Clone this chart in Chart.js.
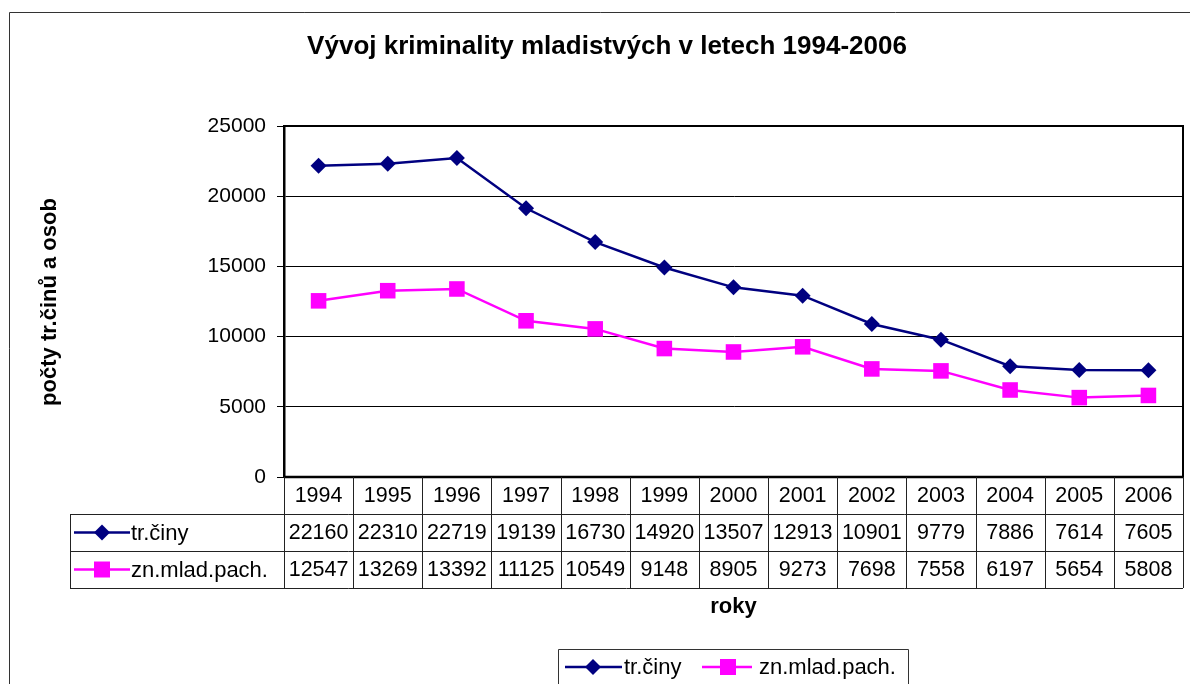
<!DOCTYPE html>
<html>
<head>
<meta charset="utf-8">
<script src="https://cdn.jsdelivr.net/npm/chart.js@4.4.0/dist/chart.umd.min.js"></script>
<style>
html,body{margin:0;padding:0;background:#fff;}
canvas{display:block;}
</style>
</head>
<body>
<canvas id="c" width="1190" height="684"></canvas>
<script>
// ---- data ----
const years = ['1994','1995','1996','1997','1998','1999','2000','2001','2002','2003','2004','2005','2006'];
const trCiny = [22160,22310,22719,19139,16730,14920,13507,12913,10901,9779,7886,7614,7605];
const mladPach = [12547,13269,13392,11125,10549,9148,8905,9273,7698,7558,6197,5654,5808];
const yTickValues = [0,5000,10000,15000,20000,25000];
const seriesNames = ['tr.činy','zn.mlad.pach.'];
const chartTitle = 'Vývoj kriminality mladistvých v letech 1994-2006';
const yAxisTitle = 'počty tr.činů a osob';
const xAxisTitle = 'roky';

const FONT = '"Liberation Sans", Arial, Helvetica, sans-serif';
const NAVY = '#000080';
const MAGENTA = '#FF00FF';

function px(v){ return Math.round(v) + 0.5; }

function drawMarker(ctx, style, x, y, r, color){
  ctx.save();
  ctx.fillStyle = color;
  ctx.beginPath();
  if (style === 'diamond'){
    ctx.moveTo(x, y - r); ctx.lineTo(x + r, y); ctx.lineTo(x, y + r); ctx.lineTo(x - r, y); ctx.closePath();
  } else {
    ctx.rect(x - r, y - r, 2*r, 2*r);
  }
  ctx.fill();
  ctx.restore();
}

function legendSample(ctx, x1, x2, cx, y, color, style){
  ctx.save();
  ctx.strokeStyle = color; ctx.lineWidth = 2.5;
  ctx.beginPath(); ctx.moveTo(x1, y); ctx.lineTo(x2, y); ctx.stroke();
  ctx.restore();
  if (style === 'diamond') drawMarker(ctx, 'diamond', cx, y, 8, color);
  else drawMarker(ctx, 'square', cx, y, 8, color);
}

const excelPlugin = {
  id: 'excelDecor',
  afterDraw(chart){
    const ctx = chart.ctx;
    const a = chart.chartArea;
    const xs = chart.scales.x;
    ctx.save();

    // outer chart frame
    ctx.strokeStyle = '#333'; ctx.lineWidth = 1;
    ctx.beginPath(); ctx.moveTo(9.5, 700); ctx.lineTo(9.5, 12.5); ctx.lineTo(1200, 12.5); ctx.stroke();

    // plot area border (top / right / bottom)
    ctx.strokeStyle = '#000'; ctx.lineWidth = 2;
    ctx.beginPath();
    ctx.moveTo(a.left, a.top); ctx.lineTo(a.right, a.top); ctx.lineTo(a.right, a.bottom);
    ctx.stroke();
    ctx.lineWidth = 2.5;
    ctx.beginPath(); ctx.moveTo(a.left, a.bottom); ctx.lineTo(a.right, a.bottom); ctx.stroke();

    // title
    ctx.fillStyle = '#000';
    ctx.textAlign = 'center'; ctx.textBaseline = 'middle';
    ctx.font = 'bold 26px ' + FONT;
    ctx.fillText(chartTitle, 607, 47);

    // y axis title
    ctx.save();
    ctx.translate(50, 302);
    ctx.rotate(-Math.PI/2);
    ctx.font = 'bold 22px ' + FONT;
    ctx.fillText(yAxisTitle, 0, 0);
    ctx.restore();

    // data table
    const rowH = 37;
    const r0 = a.bottom, r1 = r0 + rowH, r2 = r1 + rowH, r3 = r2 + rowH;
    const tableLeft = 70;
    ctx.strokeStyle = '#222'; ctx.lineWidth = 1;
    ctx.beginPath();
    [r1, r2, r3].forEach(function(y){ ctx.moveTo(tableLeft, px(y)); ctx.lineTo(a.right, px(y)); });
    for (let i = 0; i <= years.length; i++){
      const x = xs.getPixelForValue(i - 0.5);
      ctx.moveTo(px(x), r0); ctx.lineTo(px(x), r3);
    }
    ctx.moveTo(px(tableLeft), px(r1)); ctx.lineTo(px(tableLeft), r3);
    ctx.stroke();

    ctx.font = '21.5px ' + FONT;
    ctx.textAlign = 'center'; ctx.textBaseline = 'middle';
    const rows = [years, trCiny, mladPach];
    const centers = [(r0 + r1)/2 + 1, (r1 + r2)/2 + 1, (r2 + r3)/2 + 1];
    rows.forEach(function(row, ri){
      row.forEach(function(v, i){
        ctx.fillText(String(v), xs.getPixelForValue(i), centers[ri]);
      });
    });

    // row labels with markers
    legendSample(ctx, 74, 130, 102, centers[1] - 1, NAVY, 'diamond');
    legendSample(ctx, 74, 130, 102, centers[2] - 1, MAGENTA, 'square');
    ctx.font = '22px ' + FONT;
    ctx.textAlign = 'left';
    ctx.fillText(seriesNames[0], 131, centers[1]);
    ctx.fillText(seriesNames[1], 131, centers[2]);

    // x axis title
    ctx.textAlign = 'center';
    ctx.font = 'bold 22px ' + FONT;
    ctx.fillText(xAxisTitle, (a.left + a.right)/2, 607);

    // legend box
    ctx.strokeStyle = '#333'; ctx.lineWidth = 1;
    ctx.beginPath(); ctx.moveTo(558.5, 700); ctx.lineTo(558.5, 649.5); ctx.lineTo(908.5, 649.5); ctx.lineTo(908.5, 700); ctx.stroke();
    legendSample(ctx, 565, 622, 593, 667, NAVY, 'diamond');
    legendSample(ctx, 702, 752, 728, 667, MAGENTA, 'square');
    ctx.font = '22px ' + FONT;
    ctx.textAlign = 'left';
    ctx.fillText(seriesNames[0], 624, 668);
    ctx.fillText(seriesNames[1], 759, 668);

    ctx.restore();
  }
};

new Chart(document.getElementById('c'), {
  type: 'line',
  data: {
    labels: years,
    datasets: [
      {
        label: seriesNames[0], data: trCiny,
        borderColor: NAVY, backgroundColor: NAVY, borderWidth: 2.5,
        pointStyle: 'rectRot', pointRadius: 8, pointHoverRadius: 8,
        pointBorderWidth: 0, tension: 0, fill: false
      },
      {
        label: seriesNames[1], data: mladPach,
        borderColor: MAGENTA, backgroundColor: MAGENTA, borderWidth: 2.5,
        pointStyle: 'rect', pointRadius: 11, pointHoverRadius: 11,
        pointBorderWidth: 0, tension: 0, fill: false
      }
    ]
  },
  options: {
    responsive: false,
    animation: false,
    devicePixelRatio: 1,
    layout: { autoPadding: false, padding: { left: 0, top: 126, right: 7, bottom: 207 } },
    plugins: { legend: { display: false }, title: { display: false }, tooltip: { enabled: false } },
    scales: {
      x: { type: 'category', display: false, offset: true },
      y: {
        min: 0, max: 25000,
        afterBuildTicks: function(scale){ scale.ticks = yTickValues.map(function(v){ return { value: v }; }); },
        afterFit: function(scale){ scale.width = 284; },
        ticks: { color: '#000', font: { family: FONT, size: 21 }, padding: 11,
                 callback: function(v){ return String(v); } },
        grid: { color: '#000', lineWidth: 1, tickLength: 7, drawTicks: true },
        border: { display: true, color: '#000', width: 2.5 }
      }
    }
  },
  plugins: [excelPlugin]
});
</script>
</body>
</html>
